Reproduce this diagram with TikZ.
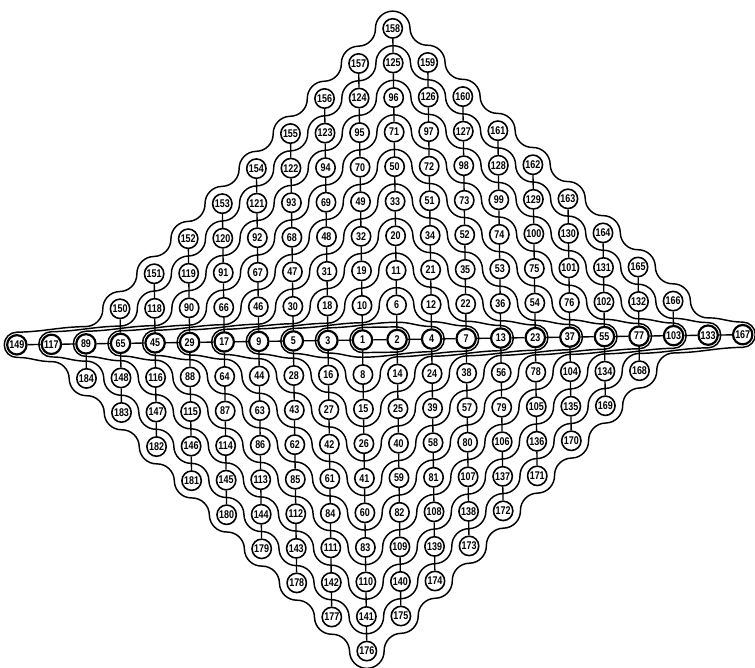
\documentclass[tikz,border=0pt]{standalone}
\usepackage{fontspec}
\newfontfamily\cellfont[FakeStretch=0.8]{Liberation Sans}
\begin{document}
\begin{tikzpicture}[
    font=\cellfont\bfseries\fontsize{9.2}{9.2}\selectfont,
    cell/.style={circle,draw,line width=1.3pt,fill=white,inner sep=0pt,minimum size=5.6mm},
    hub/.style={cell,line width=1.8pt},
    link/.style={line width=1.1pt},
    ring/.style={line width=1.2pt,line join=round}
  ]
  \useasboundingbox (-10.486,-9.488) rectangle (11.354,9.835);
  \begin{scope}[rotate=0.8]
    \foreach \rg in {0,...,7}{
      \pgfmathtruncatemacro\ns{8-\rg}
      \draw[ring] (\rg-10,0.365) to[out=0,in=180] (\rg-8,0.5)
        arc[start angle=-90,end angle=0,radius=0.5]
        \foreach \st in {1,...,\ns}{arc[start angle=180,end angle=90,radius=0.5] arc[start angle=-90,end angle=0,radius=0.5]}
        arc[start angle=180,end angle=0,radius=0.5]
        \foreach \st in {1,...,\ns}{arc[start angle=180,end angle=270,radius=0.5] arc[start angle=90,end angle=0,radius=0.5]}
        arc[start angle=180,end angle=270,radius=0.5]
        to[out=0,in=180] (11-\rg,0.365)
        arc[start angle=90,end angle=-90,radius=0.365]
        to[out=180,in=0] (9-\rg,-0.5)
        arc[start angle=90,end angle=180,radius=0.5]
        \foreach \st in {1,...,\ns}{arc[start angle=0,end angle=-90,radius=0.5] arc[start angle=90,end angle=180,radius=0.5]}
        arc[start angle=0,end angle=-180,radius=0.5]
        \foreach \st in {1,...,\ns}{arc[start angle=0,end angle=90,radius=0.5] arc[start angle=-90,end angle=-180,radius=0.5]}
        arc[start angle=0,end angle=90,radius=0.5]
        to[out=180,in=0] (\rg-10,-0.365)
        arc[start angle=270,end angle=90,radius=0.365] -- cycle;
    }
    \draw[ring] (-2,0.365) to[out=0,in=180] (0,0.5) arc[start angle=-90,end angle=0,radius=0.5]
      arc[start angle=180,end angle=0,radius=0.5] arc[start angle=180,end angle=270,radius=0.5]
      to[out=0,in=180] (3,0.365) arc[start angle=90,end angle=-90,radius=0.365]
      to[out=180,in=0] (1,-0.5) arc[start angle=90,end angle=180,radius=0.5]
      arc[start angle=0,end angle=-180,radius=0.5] arc[start angle=0,end angle=90,radius=0.5]
      to[out=180,in=0] (-2,-0.365) arc[start angle=270,end angle=90,radius=0.365] -- cycle;
    \draw[ring] (-1,0.365) to[out=0,in=180] (1,0.5) to[out=0,in=180] (2,0.365)
      arc[start angle=90,end angle=-90,radius=0.365] to[out=180,in=0] (0,-0.5)
      to[out=180,in=0] (-1,-0.365) arc[start angle=270,end angle=90,radius=0.365] -- cycle;
    \draw[ring] (0,0.365) -- (1,0.365) arc[start angle=90,end angle=-90,radius=0.365]
      -- (0,-0.365) arc[start angle=270,end angle=90,radius=0.365] -- cycle;

    \foreach \ky/\sx/\row in {9/1/{158},8/0/{157,125,159},7/-1/{156,124,96,126,160},
        6/-2/{155,123,95,71,97,127,161},5/-3/{154,122,94,70,50,72,98,128,162},
        4/-4/{153,121,93,69,49,33,51,73,99,129,163},3/-5/{152,120,92,68,48,32,20,34,52,74,100,130,164},
        2/-6/{151,119,91,67,47,31,19,11,21,35,53,75,101,131,165},
        1/-7/{150,118,90,66,46,30,18,10,6,12,22,36,54,76,102,132,166},
        -1/-8/{184,148,116,88,64,44,28,16,8,14,24,38,56,78,104,134,168},
        -2/-7/{183,147,115,87,63,43,27,15,25,39,57,79,105,135,169},
        -3/-6/{182,146,114,86,62,42,26,40,58,80,106,136,170},
        -4/-5/{181,145,113,85,61,41,59,81,107,137,171},-5/-4/{180,144,112,84,60,82,108,138,172},
        -6/-3/{179,143,111,83,109,139,173},-7/-2/{178,142,110,140,174},-8/-1/{177,141,175},-9/0/{176}}{
      \foreach \lb [count=\ix] in \row{
        \pgfmathtruncatemacro\cx{\sx+\ix-1}
        \node[cell] (n\lb) at (\cx,\ky) {\lb};
      }
    }
    \foreach \lb [count=\ix] in {149,117,89,65,45,29,17,9,5,3,1,2,4,7,13,23,37,55,77,103,133,167}{
      \node[hub] (n\lb) at (\ix-11,0) {\lb};
    }

    \foreach \lb [count=\jx,remember=\lb as \pv (initially 0)] in {149,117,89,65,45,29,17,9,5,3,1,2,4,7,13,23,37,55,77,103,133,167}{
      \ifnum\jx>1 \draw[link] (n\pv) -- (n\lb);\fi
    }
    \foreach \col in {{89,184},{150,65,148,183},{151,118,45,116,147,182},{152,119,90,29,88,115,146,181},
        {153,120,91,66,17,64,87,114,145,180},{154,121,92,67,46,9,44,63,86,113,144,179},
        {155,122,93,68,47,30,5,28,43,62,85,112,143,178},{156,123,94,69,48,31,18,3,16,27,42,61,84,111,142,177},
        {157,124,95,70,49,32,19,10,1,8,15,26,41,60,83,110,141,176},{158,125,96,71,50,33,20,11,6,2,14,25,40,59,82,109,140,175},
        {159,126,97,72,51,34,21,12,4,24,39,58,81,108,139,174},{160,127,98,73,52,35,22,7,38,57,80,107,138,173},
        {161,128,99,74,53,36,13,56,79,106,137,172},{162,129,100,75,54,23,78,105,136,171},
        {163,130,101,76,37,104,135,170},{164,131,102,55,134,169},{165,132,77,168},{166,103}}{
      \foreach \lb [count=\jx,remember=\lb as \pv (initially 0)] in \col{
        \ifnum\jx>1 \draw[link] (n\pv) -- (n\lb);\fi
      }
    }
  \end{scope}
\end{tikzpicture}
\end{document}
